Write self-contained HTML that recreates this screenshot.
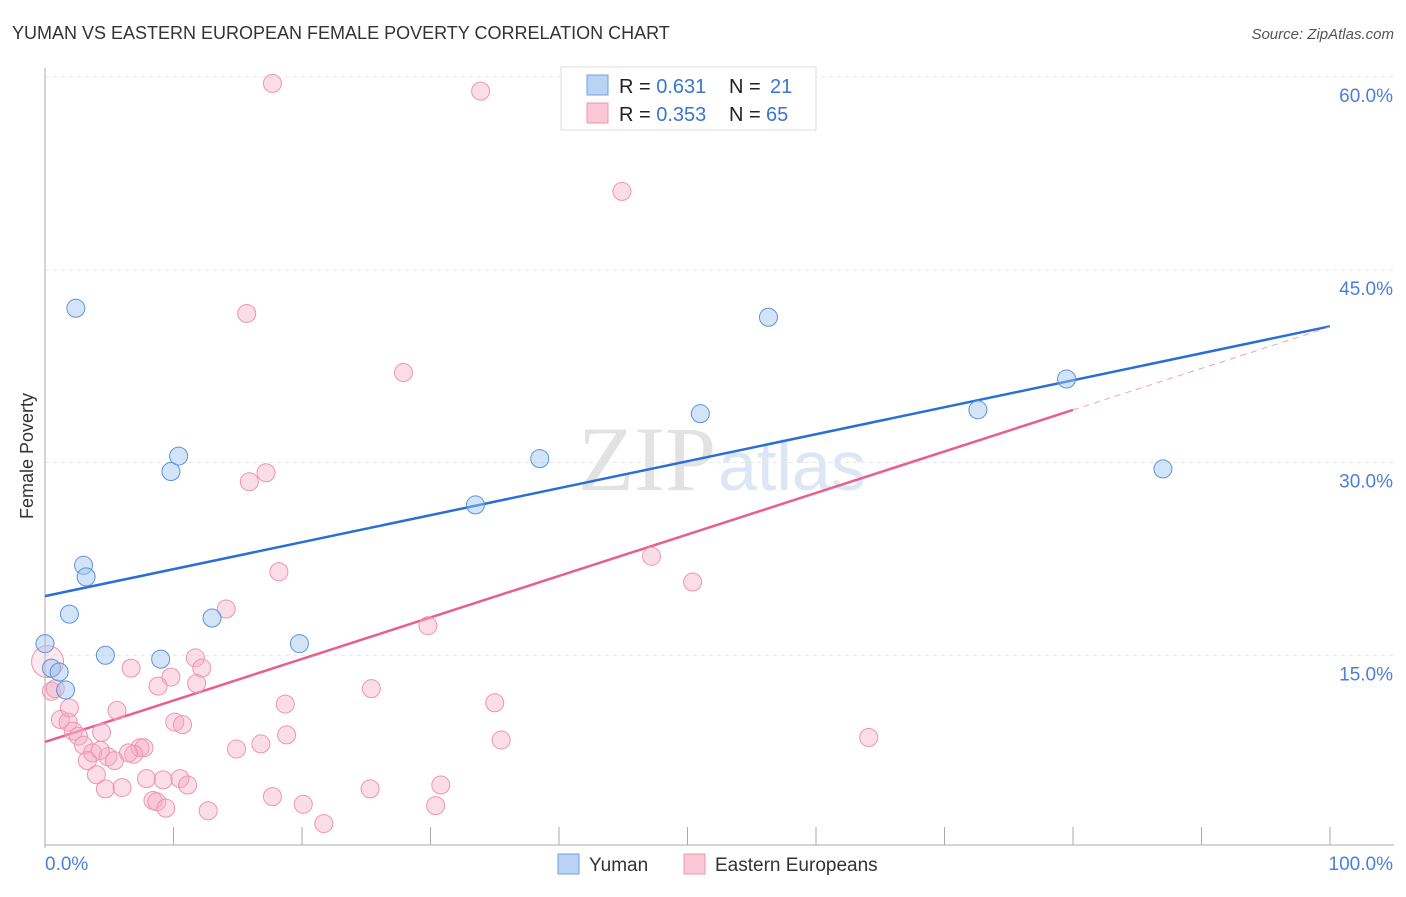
<!DOCTYPE html>
<html><head><meta charset="utf-8"><style>
body{margin:0;background:#fff;font-family:"Liberation Sans",sans-serif;}
svg text{font-family:"Liberation Sans",sans-serif;}
</style></head><body>
<svg id="chart" width="1406" height="892" viewBox="0 0 1406 892">
<text x="12" y="39" font-size="18" fill="#333">YUMAN VS EASTERN EUROPEAN FEMALE POVERTY CORRELATION CHART</text>
<text x="1394" y="39" font-size="15" fill="#555" font-style="italic" text-anchor="end">Source: ZipAtlas.com</text>
<text x="33" y="456" font-size="18" fill="#333" transform="rotate(-90 33 456)" text-anchor="middle">Female Poverty</text>
<text x="716" y="490" font-size="92" fill="#e2e2e2" text-anchor="end" style="font-family:'Liberation Serif',serif">ZIP</text>
<text x="718" y="490" font-size="70" fill="#dce6f5">atlas</text>
<g id="grid"></g><g id="axes"></g><g id="lines"></g><g id="pts"></g>
<g>
<rect x="561" y="67" width="255" height="63" fill="#fff" stroke="#ddd"/>
<rect x="587" y="75" width="21" height="20" fill="#b9d3f5" stroke="#6fa0e0"/>
<rect x="587" y="103" width="21" height="20" fill="#f9c7d5" stroke="#ee94b0"/>
<text x="619" y="93" font-size="20" fill="#222">R = <tspan fill="#3a75d0">0.631</tspan>  <tspan x="729">N = </tspan><tspan x="770" fill="#3a75d0">21</tspan></text>
<text x="619" y="121" font-size="20" fill="#222">R = <tspan fill="#3a75d0">0.353</tspan>  <tspan x="729">N = </tspan><tspan x="766" fill="#3a75d0">65</tspan></text>
</g>
<g>
<rect x="558" y="854" width="21" height="20" fill="#b9d3f5" stroke="#6fa0e0"/>
<text x="589" y="871" font-size="19" fill="#333">Yuman</text>
<rect x="684" y="854" width="21" height="20" fill="#f9c7d5" stroke="#ee94b0"/>
<text x="715" y="871" font-size="19" fill="#333">Eastern Europeans</text>
</g>
</svg>
<script>
const yTicks=[15,30,45,60];
const yTickLabels=["15.0%","30.0%","45.0%","60.0%"];
const yumanX=[0,0.5,1.1,1.6,1.9,2.4,3.0,3.2,4.7,9.0,9.8,10.4,13.0,19.8,33.5,38.5,51.0,56.3,72.6,79.5,87.0];
const yumanY=[15.9,14.0,13.7,12.3,18.2,42.0,22.0,21.1,15.0,14.7,29.3,30.5,17.9,15.9,26.7,30.3,33.8,41.3,34.1,36.5,29.5];
const eastX=[17.7,33.9,44.9,15.7,27.9,17.2,15.9,18.2,47.2,50.4,14.1,29.8,11.7,6.7,12.2,9.8,8.8,11.8,25.4,18.7,35.0,5.6,10.1,10.7,4.4,18.8,35.5,64.1,1.2,1.8,2.2,2.6,3.0,3.7,3.3,4.9,5.4,7.4,7.7,6.9,14.9,16.8,4.0,7.9,9.2,10.5,11.1,4.7,6.0,8.4,8.7,9.4,12.7,17.7,20.1,25.3,30.8,30.4,21.7,0.5,0.8,0.2,1.9,4.3,6.5];
const eastY=[59.5,58.9,51.1,41.6,37.0,29.2,28.5,21.5,22.7,20.7,18.6,17.3,14.8,14.0,14.0,13.3,12.6,12.8,12.4,11.2,11.3,10.7,9.8,9.6,9.0,8.8,8.4,8.6,10.0,9.8,9.1,8.7,8.0,7.4,6.8,7.1,6.8,7.8,7.8,7.3,7.7,8.1,5.7,5.4,5.3,5.4,4.9,4.6,4.7,3.7,3.6,3.1,2.9,4.0,3.4,4.6,4.9,3.3,1.9,12.2,12.4,14.5,10.9,7.6,7.4];
const yumanTrend=[19.6,40.6];
const eastTrend=[8.25,40.55];
const eastSolidEnd=80;
const X0=45,X1=1330,Y0=848,PPY=12.85;
const sx=v=>X0+(X1-X0)*v/100, sy=v=>Y0-v*PPY;
const NS="http://www.w3.org/2000/svg";
function mk(tag,attrs,parent){const e=document.createElementNS(NS,tag);for(const k in attrs)e.setAttribute(k,attrs[k]);parent.appendChild(e);return e;}
const grid=document.getElementById('grid'),axes=document.getElementById('axes'),lines=document.getElementById('lines'),pts=document.getElementById('pts');
yTicks.forEach((t,i)=>{
 const l=mk('line',{x1:X0,x2:1394,y1:sy(t),y2:sy(t),stroke:'#e6e6e6','stroke-dasharray':'4,4'},grid);
 
 
 const tx=mk('text',{x:1393,y:sy(t)+25,'font-size':19,fill:'#4a80d8','text-anchor':'end'},axes);
 tx.textContent=yTickLabels[i];
 
 
});
const ya=mk('line',{x1:X0,x2:X0,y1:68,y2:Y0,stroke:'#aaa'},axes);


const xa=mk('line',{x1:X0,x2:1394,y1:Y0-3,y2:Y0-3,stroke:'#aaa'},axes);


for(let i=1;i<=10;i++){const tk=mk('line',{x1:sx(i*10),x2:sx(i*10),y1:827,y2:845,stroke:'#aaa'},axes);
 
 }
const xl0=mk('text',{x:45,y:870,'font-size':19,fill:'#4a80d8'},axes);xl0.textContent='0.0%';


const xl1=mk('text',{x:1393,y:870,'font-size':19,fill:'#4a80d8','text-anchor':'end'},axes);xl1.textContent='100.0%';


eastX.forEach((x,i)=>{const c=mk('circle',{cx:sx(x),cy:sy(eastY[i]),r:i==61?16:9,fill:i==61?'rgba(246,170,195,0.25)':'rgba(246,170,195,0.4)',stroke:'#ee94b0','stroke-width':1},pts);
 
 });
yumanX.forEach((x,i)=>{const c=mk('circle',{cx:sx(x),cy:sy(yumanY[i]),r:9,fill:'rgba(160,196,240,0.45)',stroke:'#5b92dc','stroke-width':1},pts);
 
 });
const ey=x=>eastTrend[0]+(eastTrend[1]-eastTrend[0])*x/100;
const l1=mk('line',{x1:sx(0),y1:sy(yumanTrend[0]),x2:sx(100),y2:sy(yumanTrend[1]),stroke:'#2a6fd6','stroke-width':2.5},lines);


const l2=mk('line',{x1:sx(0),y1:sy(ey(0)),x2:sx(eastSolidEnd),y2:sy(ey(eastSolidEnd)),stroke:'#e8608a','stroke-width':2.5},lines);


const l3=mk('line',{x1:sx(eastSolidEnd),y1:sy(ey(eastSolidEnd)),x2:sx(100),y2:sy(ey(100)),stroke:'#eea0b8','stroke-width':1,'stroke-dasharray':'6,5'},lines);


</script>
</body></html>
